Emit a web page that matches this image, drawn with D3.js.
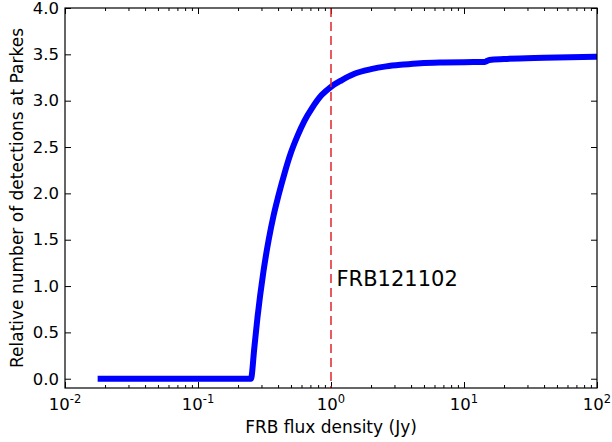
<!DOCTYPE html>
<html>
<head>
<meta charset="utf-8">
<script src="https://cdn.jsdelivr.net/npm/d3@7"></script>
<style>
  body { margin: 0; background: #fff; }
  text { font-family: "DejaVu Sans", sans-serif; fill: #000; }
</style>
</head>
<body>
<svg id="chart"></svg>
<script>
// curve: flux (Jy) vs relative detections
const flux = [0.0176, 0.25, 0.265, 0.28, 0.31, 0.34, 0.37, 0.40, 0.45, 0.50, 0.56, 0.63, 0.72, 0.85, 1.0,
    1.2, 1.5, 2.0, 2.6, 3.5, 4.7, 7, 10, 14.3, 15.5, 20, 40, 100];
const detections = [0, 0, 0.33, 0.66, 1.15, 1.50, 1.76, 1.96, 2.23, 2.44, 2.62, 2.78, 2.92, 3.06, 3.15,
    3.22, 3.29, 3.34, 3.37, 3.39, 3.405, 3.413, 3.416, 3.418, 3.44, 3.45, 3.463, 3.473];
const xMajor = [-2, -1, 0, 1, 2];
const yTicks = [0, 0.5, 1, 1.5, 2, 2.5, 3, 3.5, 4];
const markerFlux = 1.0;
const markerLabel = 'FRB121102';
const markerLabelAt = [1.1, 1.0];

const width = 612;
const height = 442;
const margin = { top: 8, right: 15, bottom: 54, left: 65 };
const plotW = width - margin.left - margin.right;
const plotH = height - margin.top - margin.bottom;

const svg = d3.select('#chart')
    .attr('width', width)
    .attr('height', height);

const g = svg.append('g')
    .attr('transform', `translate(${margin.left},${margin.top})`);

const x = d3.scaleLog().domain([1e-2, 1e2]).range([0, plotW]);
const y = d3.scaleLinear().domain([-0.1, 4.0]).range([plotH, 0]);

const minorTicks = [];
xMajor.slice(0, -1).forEach((e) => {
    for (let m = 2; m <= 9; m++) minorTicks.push(m * Math.pow(10, e));
});
const majorTicks = xMajor.map((e) => Math.pow(10, e));

// clip for the data
g.append('clipPath').attr('id', 'clip')
    .append('rect').attr('width', plotW).attr('height', plotH);

// x ticks, bottom and top, pointing inward
const drawXTicks = (values, len) => {
    g.append('g').attr('transform', `translate(0,${plotH})`)
        .call(d3.axisBottom(x).tickValues(values).tickSize(-len).tickFormat(''))
        .call((a) => a.select('.domain').remove());
    g.append('g')
        .call(d3.axisTop(x).tickValues(values).tickSize(-len).tickFormat(''))
        .call((a) => a.select('.domain').remove());
};
drawXTicks(majorTicks, 6);
drawXTicks(minorTicks, 3);

// y ticks, left and right
g.append('g')
    .call(d3.axisLeft(y).tickValues(yTicks).tickSize(-6).tickPadding(6).tickFormat(d3.format('.1f')))
    .call((a) => a.select('.domain').remove())
    .call((a) => a.selectAll('text')
        .style('font-family', '"DejaVu Sans", sans-serif')
        .style('font-size', '16.5px')
        .attr('fill', '#000'));
g.append('g').attr('transform', `translate(${plotW},0)`)
    .call(d3.axisRight(y).tickValues(yTicks).tickSize(-6).tickFormat(''))
    .call((a) => a.select('.domain').remove());

g.selectAll('.tick line').attr('stroke', '#000').attr('stroke-width', 1);

// x tick labels as 10^n
const xLabels = g.append('g');
xMajor.forEach((e) => {
    const t = xLabels.append('text')
        .attr('x', x(Math.pow(10, e)))
        .attr('y', plotH + 22)
        .attr('text-anchor', 'middle')
        .style('font-size', '16.5px');
    t.append('tspan').text('10');
    t.append('tspan').attr('dy', -7).style('font-size', '11.5px').text(e);
});

// data curve
const line = d3.line()
    .x((d, i) => x(flux[i]))
    .y((d) => y(d))
    .curve(d3.curveMonotoneX);

g.append('path')
    .datum(detections)
    .attr('clip-path', 'url(#clip)')
    .attr('d', line)
    .attr('fill', 'none')
    .attr('stroke', '#0000ff')
    .attr('stroke-width', 6)
    .attr('stroke-linejoin', 'round');

// FRB121102 marker
g.append('line')
    .attr('x1', x(markerFlux)).attr('x2', x(markerFlux))
    .attr('y1', 0).attr('y2', plotH)
    .attr('stroke', '#e0262b')
    .attr('stroke-width', 1.5)
    .attr('stroke-dasharray', '9,5');

g.append('text')
    .attr('x', x(markerLabelAt[0]))
    .attr('y', y(markerLabelAt[1]))
    .style('font-size', '21px')
    .text(markerLabel);

// frame
g.append('rect')
    .attr('width', plotW).attr('height', plotH)
    .attr('fill', 'none')
    .attr('stroke', '#000')
    .attr('stroke-width', 1.2);

// axis titles
svg.append('text')
    .attr('x', margin.left + plotW / 2)
    .attr('y', 433)
    .attr('text-anchor', 'middle')
    .style('font-size', '17px')
    .text('FRB flux density (Jy)');

svg.append('text')
    .attr('transform', `translate(22.5,${margin.top + plotH / 2}) rotate(-90)`)
    .attr('text-anchor', 'middle')
    .style('font-size', '17px')
    .text('Relative number of detections at Parkes');
</script>
</body>
</html>
